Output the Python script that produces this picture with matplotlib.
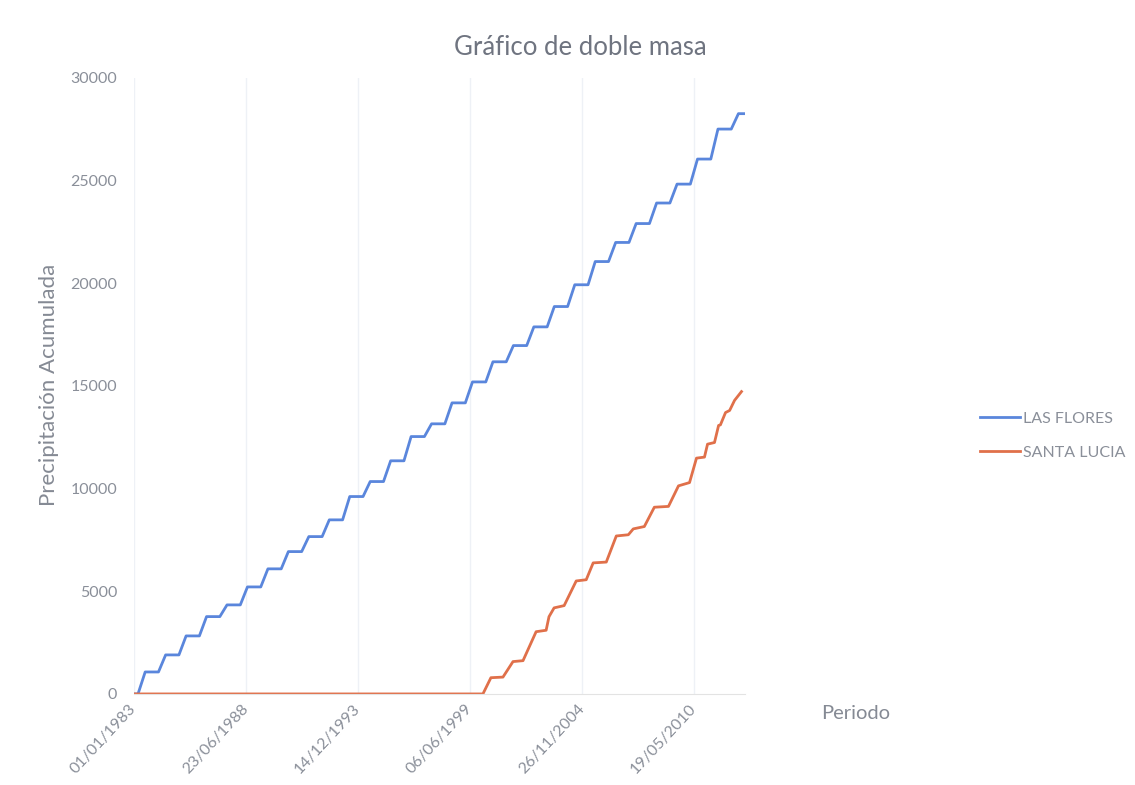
import numpy as np
import matplotlib.pyplot as plt

# Las Flores: cumulative total reached after each year's rainy season
lf_years = list(range(1983, 2013))
lf_levels = [1070, 1900, 2825, 3765, 4335, 5210, 6090, 6930, 7660, 8475,
             9610, 10340, 11350, 12530, 13150, 14170, 15190, 16170, 16960, 17870,
             18860, 19920, 21050, 21980, 22900, 23900, 24820, 26040, 27500, 28250]
lf_end = 2012.85

# Santa Lucia: vertices (decimal year, cumulative mm)
sl_t = [1983.0, 2000.06, 2000.45, 2001.04, 2001.53, 2002.02, 2002.66, 2003.15, 2003.29,
        2003.54, 2004.03, 2004.62, 2005.11, 2005.45, 2006.09, 2006.58, 2007.17, 2007.41,
        2007.95, 2008.44, 2009.13, 2009.62, 2010.16, 2010.50, 2010.89, 2011.04, 2011.38,
        2011.58, 2011.67, 2011.92, 2012.12, 2012.36, 2012.70]
sl_v = [0, 0, 790, 820, 1575, 1620, 3030, 3100, 3760,
        4190, 4300, 5500, 5560, 6380, 6420, 7690, 7750, 8035,
        8150, 9090, 9130, 10130, 10290, 11480, 11530, 12160, 12240,
        13070, 13100, 13700, 13800, 14290, 14720]

tick_days = [0, 2000, 4000, 6000, 8000, 10000]
tick_labels = ["01/01/1983", "23/06/1988", "14/12/1993", "06/06/1999", "26/11/2004", "19/05/2010"]


def to_days(yr):
    return (np.asarray(yr, dtype=float) - 1983.0) * 365.25


# step shape: rise between ~March and ~July each year
lf_t = [1983.0]
lf_v = [0]
prev = 0
for y, lev in zip(lf_years, lf_levels):
    lf_t += [y + 0.2, y + 0.55]
    lf_v += [prev, lev]
    prev = lev
lf_t.append(lf_end)
lf_v.append(prev)

plt.rcParams['font.family'] = ['Lato', 'DejaVu Sans']
gray = '#8a8f99'

fig = plt.figure(figsize=(11.35, 7.85), dpi=100)
ax = fig.add_axes([0.118, 0.116, 0.538, 0.785])

ax.plot(to_days(lf_t), lf_v, color='#5a86dc', lw=2.0, solid_joinstyle='round', label='LAS FLORES')
ax.plot(to_days(sl_t), sl_v, color='#e0704a', lw=2.0, solid_joinstyle='round', label='SANTA LUCIA')

ax.set_xlim(0, to_days(lf_end))
ax.set_ylim(0, 30000)
ax.set_yticks(range(0, 30001, 5000))
ax.set_xticks(tick_days)
ax.set_xticklabels(tick_labels, rotation=47, ha='right', va='center', rotation_mode='anchor')
ax.tick_params(axis='both', length=0, colors=gray, labelsize=11.5)
ax.tick_params(axis='x', pad=9)
ax.tick_params(axis='y', pad=12)
ax.grid(axis='x', color='#eef1f6', lw=1)
for s in ['top', 'right', 'left']:
    ax.spines[s].set_visible(False)
ax.spines['bottom'].set_color('#e3e3e3')

fig.text(0.511, 0.94, 'Gráfico de doble masa', ha='center', va='center', fontsize=18.5, color='#6f7480')
fig.text(0.043, 0.51, 'Precipitación Acumulada', rotation=90, ha='center', va='center',
         fontsize=16, color='#858a94')
fig.text(0.754, 0.091, 'Periodo', ha='center', va='center', fontsize=14.5, color='#858a94')

leg = fig.legend(loc='center left', bbox_to_anchor=(0.851, 0.445), frameon=False,
                 fontsize=11.5, handlelength=2.5, handletextpad=0.15, labelspacing=1.25)
for t in leg.get_texts():
    t.set_color(gray)

fig.savefig('out.png', dpi=100)
